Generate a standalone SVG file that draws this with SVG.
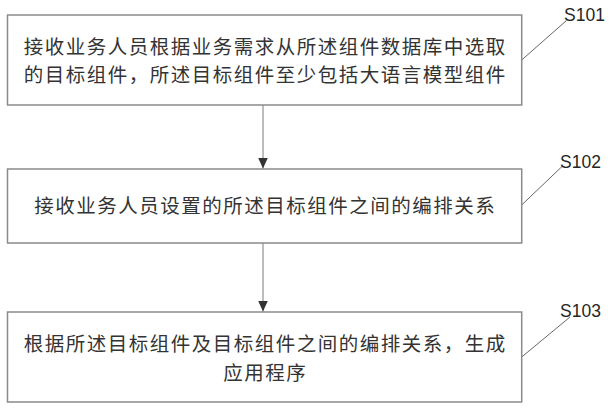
<svg xmlns="http://www.w3.org/2000/svg" width="612" height="410" viewBox="0 0 612 410">
<style>
.box{fill:#fff;stroke:#8a8a8a;stroke-width:1.5}
.t{font-family:"Noto Sans CJK SC","Liberation Sans",sans-serif;font-size:19.5px;letter-spacing:1.5px;fill:#333;text-anchor:middle}
.lbl{font-family:"Liberation Sans","Open Sans",sans-serif;font-size:17.5px;fill:#262626}
.lead{stroke:#666;stroke-width:1;fill:none}
.conn{stroke:#7a7a7a;stroke-width:1;fill:none}
</style>
<defs>
<marker id="ah" markerWidth="11" markerHeight="10" refX="11" refY="5" orient="auto" markerUnits="userSpaceOnUse" viewBox="0 0 11 10">
<path d="M0,0 L11,5 L0,10 Z" fill="#333"/>
</marker>
</defs>
<rect width="612" height="410" fill="#fff"/>
<g id="connectors">
<line class="conn" x1="263" y1="105" x2="263" y2="168.5" marker-end="url(#ah)"/>
<line class="conn" x1="263" y1="243" x2="263" y2="311.5" marker-end="url(#ah)"/>
<line class="lead" x1="521.7" y1="60" x2="566.5" y2="20.5"/>
<line class="lead" x1="521.7" y1="205" x2="562" y2="166.5"/>
<line class="lead" x1="521.7" y1="357" x2="570" y2="317"/>
</g>
<g id="S101">
<rect class="box" x="7.5" y="15" width="514.2" height="90"/>
<text class="t" x="265.2" y="53.5">接收业务人员根据业务需求从所述组件数据库中选取</text>
<text class="t" x="265.2" y="82">的目标组件，所述目标组件至少包括大语言模型组件</text>
<text class="lbl" x="564" y="21">S101</text>
</g>
<g id="S102">
<rect class="box" x="7.5" y="169" width="514.2" height="74"/>
<text class="t" x="265.2" y="212.5">接收业务人员设置的所述目标组件之间的编排关系</text>
<text class="lbl" x="560" y="168">S102</text>
</g>
<g id="S103">
<rect class="box" x="7.5" y="312" width="514.2" height="90"/>
<text class="t" x="265.2" y="351">根据所述目标组件及目标组件之间的编排关系，生成</text>
<text class="t" x="265.2" y="379.5">应用程序</text>
<text class="lbl" x="560" y="317">S103</text>
</g>
</svg>
